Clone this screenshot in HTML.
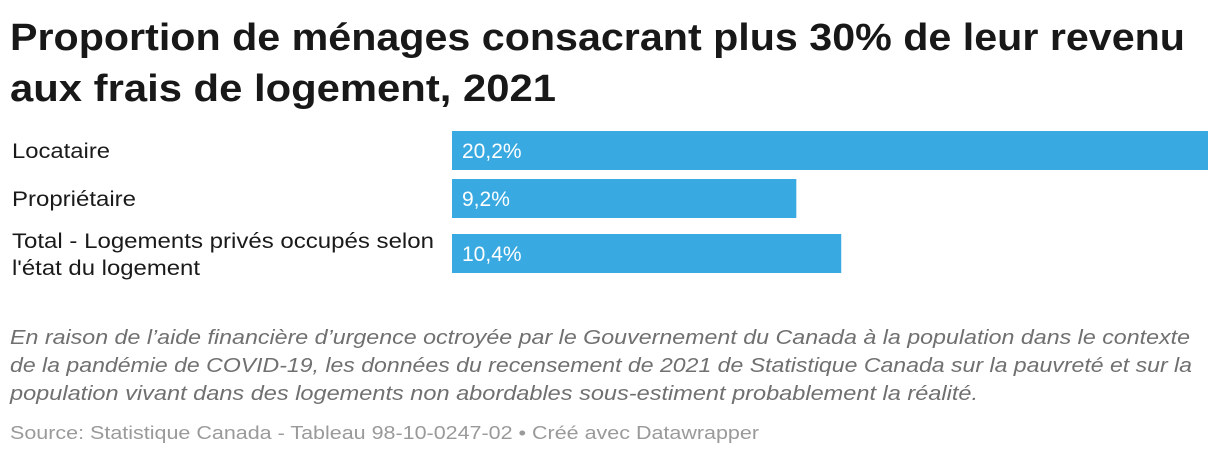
<!DOCTYPE html>
<html><head><meta charset="utf-8"><style>
body{margin:0;background:#fff;width:1220px;height:454px;overflow:hidden}
svg{display:block;font-family:"Liberation Sans",sans-serif}
</style></head><body>
<svg width="1220" height="454">
<text x="10" y="50" font-size="38" font-weight="bold" fill="#181818" textLength="1175" lengthAdjust="spacingAndGlyphs">Proportion de ménages consacrant plus 30% de leur revenu</text>
<text x="10" y="101" font-size="38" font-weight="bold" fill="#181818" textLength="546" lengthAdjust="spacingAndGlyphs">aux frais de logement, 2021</text>
<g id="bars"></g>
<g fill="#707070" font-size="20" font-style="italic">
<text x="10" y="344" textLength="1180" lengthAdjust="spacingAndGlyphs">En raison de l’aide financière d’urgence octroyée par le Gouvernement du Canada à la population dans le contexte</text>
<text x="10" y="372" textLength="1182" lengthAdjust="spacingAndGlyphs">de la pandémie de COVID-19, les données du recensement de 2021 de Statistique Canada sur la pauvreté et sur la</text>
<text x="10" y="400" textLength="968" lengthAdjust="spacingAndGlyphs">population vivant dans des logements non abordables sous-estiment probablement la réalité.</text>
</g>
<text x="10" y="439" font-size="18" fill="#9a9a9a" textLength="749" lengthAdjust="spacingAndGlyphs">Source: Statistique Canada - Tableau 98-10-0247-02 • Créé avec Datawrapper</text>
</svg>
<script>
const categories = [["Locataire"], ["Propriétaire"], ["Total - Logements privés occupés selon", "l'état du logement"]];
const values = [20.2, 9.2, 10.4];
const valueLabels = ["20,2%", "9,2%", "10,4%"];
const NS = "http://www.w3.org/2000/svg";
const g = document.getElementById('bars');
const x0 = 452, x1 = 1208, maxV = 20.2;
const xs = v => x0 + (x1 - x0) * v / maxV;
const barTops = [131, 179, 234];
const barH = 39;
values.forEach((v, i) => {
  const r = document.createElementNS(NS, 'rect');
  r.setAttribute('x', x0); r.setAttribute('y', barTops[i]);
  r.setAttribute('width', xs(v) - x0); r.setAttribute('height', barH);
  r.setAttribute('fill', '#38a9e1');
  
  
  g.appendChild(r);
  const t = document.createElementNS(NS, 'text');
  t.setAttribute('x', 462); t.setAttribute('y', barTops[i] + 27);
  t.setAttribute('font-size', '21'); t.setAttribute('fill', '#fff');
  t.textContent = valueLabels[i];
  
  
  g.appendChild(t);
  const lines = categories[i];
  lines.forEach((ln, j) => {
    const c = document.createElementNS(NS, 'text');
    c.setAttribute('x', 12);
    const y = lines.length === 1 ? barTops[i] + 27 : barTops[i] + 14 + j * 27;
    c.setAttribute('y', y);
    c.setAttribute('font-size', '21'); c.setAttribute('fill', '#1a1a1a');
    c.textContent = ln;
    
    
    g.appendChild(c);
    if (ln.length > 30) {
      c.setAttribute('textLength', '422');
    } else {
      c.setAttribute('textLength', String(Math.round(c.getComputedTextLength() * 1.14)));
    }
    c.setAttribute('lengthAdjust', 'spacingAndGlyphs');
  });
});
</script>
</body></html>
